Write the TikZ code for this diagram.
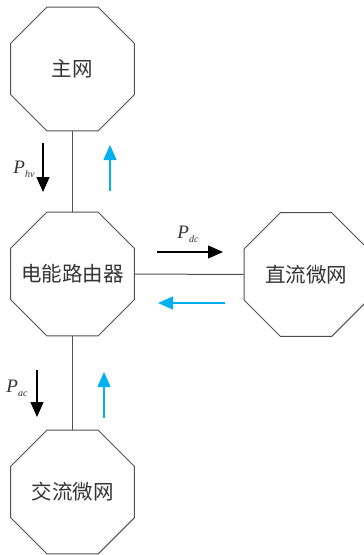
\documentclass[tikz,border=0pt]{standalone}
\usepackage{fontspec}
\setmainfont{Liberation Serif}
\newfontfamily\cjk{Noto Sans CJK SC}
\usetikzlibrary{shapes.geometric,arrows.meta}
\definecolor{edgegray}{HTML}{505050}
\definecolor{txtgray}{HTML}{333333}
\definecolor{flowblue}{HTML}{00B0F0}
\tikzset{
  octa/.style={draw=edgegray, line width=1pt, regular polygon, regular polygon sides=8,
    minimum size=134pt, inner sep=0pt},
  octatext/.style={text=txtgray, font=\cjk\fontsize{20.5}{24}\selectfont},
  link/.style={draw=edgegray, line width=1pt},
  pflow/.style={draw=black, line width=1.2pt, -{Triangle[width=13pt,length=15pt]}},
  qflow/.style={draw=flowblue, line width=1.2pt, -{Triangle[width=13pt,length=15pt]}},
  plabel/.style={text=txtgray, font=\fontsize{19}{22}\selectfont\itshape, inner sep=0pt}
}
\newcommand{\psub}[2]{#1\raisebox{-4pt}{\fontsize{10}{10}\selectfont #2}}
\begin{document}
\begin{tikzpicture}[x=1pt,y=-1pt]
\useasboundingbox (0,0) rectangle (364,555);
\node[octa, label={[octatext]center:主网}] (grid) at (72.5,69) {};
\node[octa, label={[octatext]center:电能路由器}] (router) at (72.5,274) {};
\node[octa, label={[octatext]center:直流微网}] (dc) at (306,274.5) {};
\node[octa, label={[octatext]center:交流微网}] (ac) at (72.5,492) {};
\draw[link] (grid) -- (router);
\draw[link] (router) -- (dc);
\draw[link] (router) -- (ac);
% top
\coordinate (t1) at (43,143); \coordinate (t2) at (43,192);
\draw[pflow] (t1) -- (t2);
\coordinate (t3) at (110,191); \coordinate (t4) at (110,145);
\draw[qflow] (t3) -- (t4);
\node[plabel] (lhv) at (24,169) {\psub{P}{hv}};
% horizontal
\coordinate (h1) at (157,252); \coordinate (h2) at (223,252);
\draw[pflow] (h1) -- (h2);
\coordinate (h3) at (225,303); \coordinate (h4) at (158,303);
\draw[qflow] (h3) -- (h4);
\node[plabel] (ldc) at (188,234) {\psub{P}{dc}};
% bottom
\coordinate (b1) at (37,370); \coordinate (b2) at (37,417);
\draw[pflow] (b1) -- (b2);
\coordinate (b3) at (104,418); \coordinate (b4) at (104,372);
\draw[qflow] (b3) -- (b4);
\node[plabel] (lac) at (17,388) {\psub{P}{ac}};
\end{tikzpicture}
\end{document}
